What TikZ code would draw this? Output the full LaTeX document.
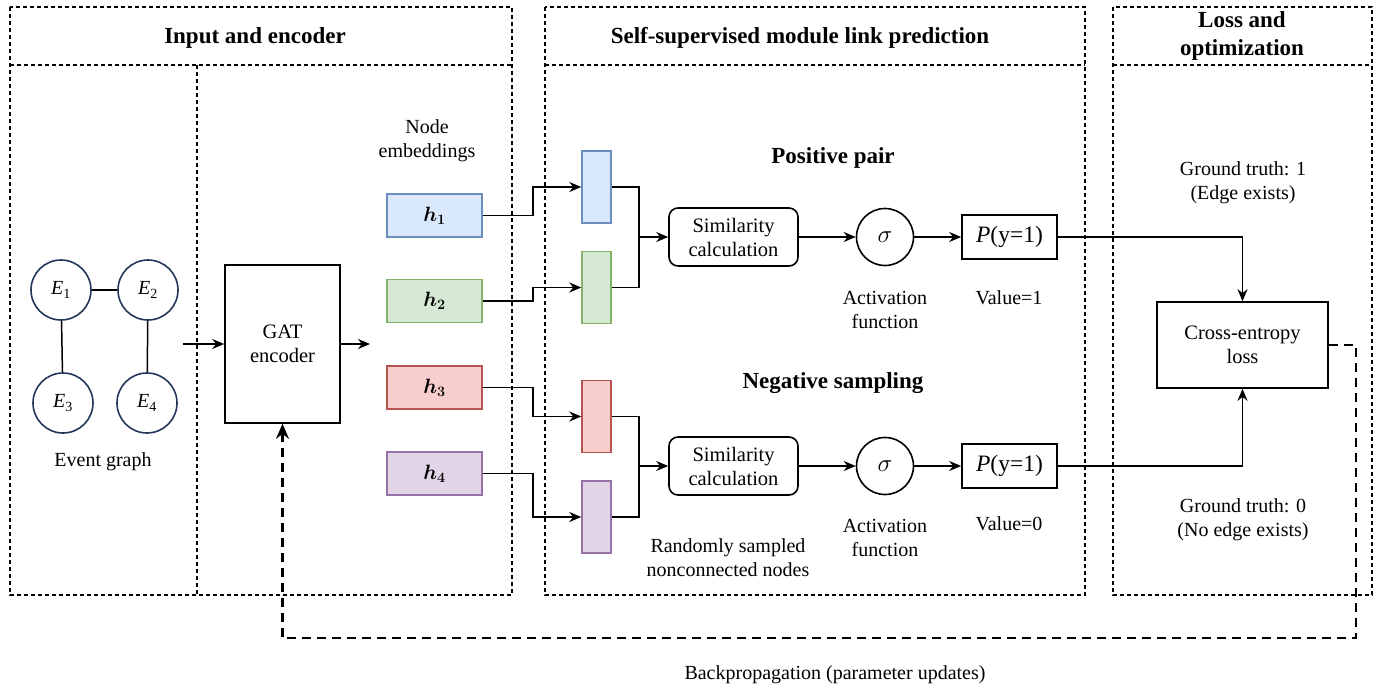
\documentclass[tikz,border=0pt]{standalone}
\usepackage{fontspec}
\setmainfont{Liberation Serif}
\usepackage{bm}
\usetikzlibrary{arrows.meta}
\definecolor{bluef}{HTML}{DAE8FC}\definecolor{blued}{HTML}{6C8EBF}
\definecolor{greenf}{HTML}{D5E8D4}\definecolor{greend}{HTML}{82B366}
\definecolor{redf}{HTML}{F8CECC}\definecolor{redd}{HTML}{B85450}
\definecolor{purpf}{HTML}{E1D5E7}\definecolor{purpd}{HTML}{9673A6}
\definecolor{navy}{RGB}{35,55,90}
\tikzset{
 region/.style={draw, dash pattern=on 4pt off 3pt, line width=1.2pt},
 hbox/.style={draw, minimum width=95pt, minimum height=43pt, inner sep=0pt, line width=1.4pt, font=\fontsize{21}{25}\selectfont},
 vbox/.style={draw, minimum width=29pt, minimum height=72pt, inner sep=0pt, line width=1.4pt},
 blk/.style={draw, line width=1.6pt, inner sep=0pt, align=center, font=\fontsize{20.5}{24}\selectfont},
 enode/.style={draw=navy, circle, minimum size=60pt, inner sep=0pt, line width=1.6pt, font=\fontsize{20}{24}\selectfont},
 arr/.style={-{Stealth[length=12pt,width=10pt]}, line width=1.8pt},
 ln/.style={line width=1.8pt},
 bp/.style={-{Stealth[length=15pt,width=13pt]}, line width=2.8pt, dash pattern=on 9pt off 6pt},
 lbl/.style={font=\fontsize{20}{24}\selectfont, align=center, inner sep=0pt},
 hdr/.style={font=\fontsize{23}{28}\selectfont\bfseries, align=center, inner sep=0pt},
}
\begin{document}
\begin{tikzpicture}[x=1pt,y=-1pt]
\useasboundingbox (0,0) rectangle (1377,689);
% regions
\draw[region] (10,7) rectangle (512,595);
\draw[region] (10,65) -- (512,65);
\draw[region] (197,65) -- (197,595);
\draw[region] (545,7) rectangle (1085,595);
\draw[region] (545,65) -- (1085,65);
\draw[region] (1113,7) rectangle (1372,595);
\draw[region] (1113,65) -- (1372,65);
\node[hdr] (t1) at (255,38) {Input and encoder};
\node[hdr] (t2) at (800,38) {Self-supervised module link prediction};
\node[hdr] (t3) at (1242,36) {Loss and\\optimization};
% event graph
\node[enode] (e1) at (61,290) {\textit{E}\textsubscript{1}};
\node[enode] (e2) at (148,290) {\textit{E}\textsubscript{2}};
\node[enode] (e3) at (63,403) {\textit{E}\textsubscript{3}};
\node[enode] (e4) at (147,403) {\textit{E}\textsubscript{4}};
\draw[line width=1.5pt] (e1) -- (e2);
\draw[line width=1.5pt] (e1) -- (e3);
\draw[line width=1.5pt] (e2) -- (e4);
\node[lbl] (eg) at (103,462) {Event graph};
% encoder
\node[blk, minimum width=115pt, minimum height=158pt] (gat) at (282.5,344) {GAT\\encoder};
\coordinate (in1) at (183,344);
\coordinate (out1) at (370,344);
\draw[arr] (in1) -- (gat.west);
\draw[arr] (gat.east) -- (out1);
% embeddings
\node[lbl] (ne) at (427,141) {Node\\embeddings};
\node[hbox, fill=bluef, draw=blued] (h1) at (434.5,215.5) {$\bm{h}_{\bm{1}}$};
\node[hbox, fill=greenf, draw=greend] (h2) at (434.5,301) {$\bm{h}_{\bm{2}}$};
\node[hbox, fill=redf, draw=redd] (h3) at (434.5,387.5) {$\bm{h}_{\bm{3}}$};
\node[hbox, fill=purpf, draw=purpd] (h4) at (434.5,473.5) {$\bm{h}_{\bm{4}}$};
\node[vbox, fill=bluef, draw=blued] (s1) at (596.5,187) {};
\node[vbox, fill=greenf, draw=greend] (s2) at (596.5,287.5) {};
\node[vbox, fill=redf, draw=redd] (s3) at (596.5,416.5) {};
\node[vbox, fill=purpf, draw=purpd] (s4) at (596.5,517) {};
\draw[arr] (h1.east) -- ++(50,0) |- (s1.west);
\draw[arr] (h2.east) -- ++(50,0) |- (s2.west);
\draw[arr] (h3.east) -- ++(50,0) |- (s3.west);
\draw[arr] (h4.east) -- ++(50,0) |- (s4.west);
% positive
\node[hdr] (pp) at (833,158) {Positive pair};
\coordinate (m1) at (639,237);
\node[blk, rounded corners=9pt, minimum width=129pt, minimum height=58pt] (sim1) at (733.5,237) {Similarity\\calculation};
\node[blk, circle, minimum size=57pt, font=\fontsize{25}{28}\selectfont] (sg1) at (885,237) {$\sigma$};
\node[blk, minimum width=95pt, minimum height=44pt, font=\fontsize{23.5}{27}\selectfont] (p1) at (1009.5,237) {\textit{P}(y=1)};
\draw[ln] (s1.east) -| (m1);
\draw[ln] (s2.east) -| (m1);
\draw[arr] (m1) -- (sim1.west);
\draw[arr] (sim1.east) -- (sg1.west);
\draw[arr] (sg1.east) -- (p1.west);
\node[lbl] (af1) at (885,310) {Activation\\function};
\node[lbl] (v1) at (1009,298) {Value=1};
% negative
\node[hdr] (ns) at (833,383) {Negative sampling};
\coordinate (m2) at (639,466);
\node[blk, rounded corners=9pt, minimum width=129pt, minimum height=58pt] (sim2) at (733.5,466) {Similarity\\calculation};
\node[blk, circle, minimum size=57pt, font=\fontsize{25}{28}\selectfont] (sg2) at (885,466) {$\sigma$};
\node[blk, minimum width=95pt, minimum height=44pt, font=\fontsize{23.5}{27}\selectfont] (p2) at (1009.5,466) {\textit{P}(y=1)};
\draw[ln] (s3.east) -| (m2);
\draw[ln] (s4.east) -| (m2);
\draw[arr] (m2) -- (sim2.west);
\draw[arr] (sim2.east) -- (sg2.west);
\draw[arr] (sg2.east) -- (p2.west);
\node[lbl] (af2) at (885,538) {Activation\\function};
\node[lbl] (v2) at (1009,524) {Value=0};
\node[lbl] (rs) at (728,558) {Randomly sampled\\nonconnected nodes};
% loss
\node[lbl] (g1) at (1243,183) {Ground truth: 1\\(Edge exists)};
\node[lbl] (g0) at (1243,520) {Ground truth: 0\\(No edge exists)};
\node[blk, minimum width=171pt, minimum height=86pt] (ce) at (1242.5,345) {Cross-entropy\\loss};
\draw[arr] (p1.east) -| (ce.north);
\draw[arr] (p2.east) -| (ce.south);
% backprop
\coordinate (bpc) at (1356,638);
\draw[bp] (ce.east) -| (bpc) -| (gat.south);
\node[lbl] (bpl) at (835,675) {Backpropagation (parameter updates)};
\end{tikzpicture}
\end{document}
